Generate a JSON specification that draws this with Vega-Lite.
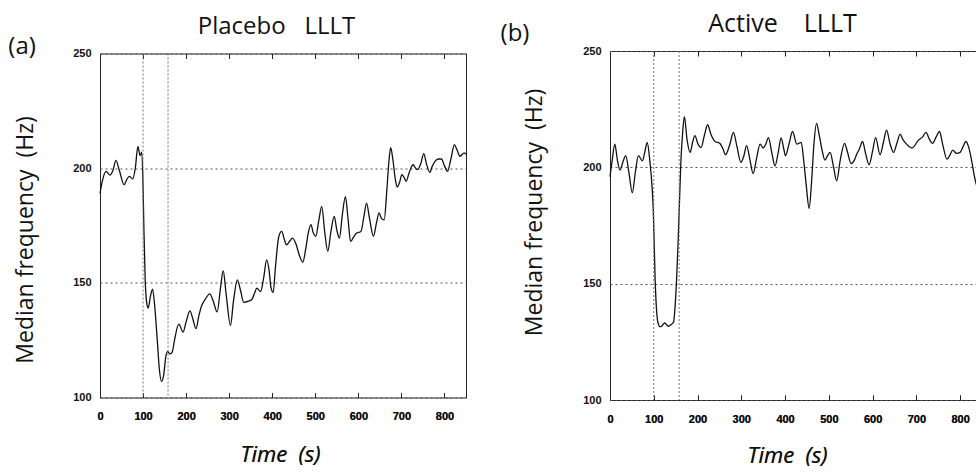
{
  "$schema": "https://vega.github.io/schema/vega-lite/v6.json",
  "background": "white",
  "padding": {"left": 7, "top": 11, "right": 0, "bottom": 0},
  "spacing": 144,
  "bounds": "flush",
  "center": true,
  "config": {
    "view": {"stroke": "#222", "strokeWidth": 1},
    "axis": {
      "labelFont": "Liberation Sans", "labelFontSize": 11, "labelFontWeight": "bold", "labelColor": "#111",
      "titleFont": "Open Sans", "titleFontSize": 23, "titleFontWeight": "normal", "titleColor": "#111",
      "domain": false, "labelFlush": false, "labelOverlap": false
    }
  },
  "datasets": {
    "placebo": [
      {"t":0,"hz":189},{"t":5,"hz":194},{"t":14,"hz":198.6},{"t":23,"hz":197},{"t":30,"hz":199},{"t":37,"hz":203.4},{"t":45,"hz":199},{"t":56,"hz":192.8},{"t":62,"hz":195},{"t":68,"hz":196.4},{"t":76,"hz":195.3},{"t":82,"hz":200},{"t":88,"hz":209.5},{"t":93,"hz":205.5},{"t":97,"hz":207},{"t":100,"hz":192},{"t":102,"hz":173},{"t":105,"hz":151},{"t":108,"hz":142},{"t":112,"hz":139},{"t":117,"hz":144},{"t":122,"hz":147.3},{"t":127,"hz":140},{"t":133,"hz":125},{"t":138,"hz":112},{"t":143,"hz":107},{"t":148,"hz":110},{"t":153,"hz":118},{"t":157,"hz":120},{"t":163,"hz":119},{"t":168,"hz":120},{"t":173,"hz":125},{"t":183,"hz":132},{"t":193,"hz":128.5},{"t":200,"hz":133},{"t":209,"hz":137.8},{"t":216,"hz":134},{"t":223,"hz":130},{"t":230,"hz":136},{"t":236,"hz":140},{"t":245,"hz":143},{"t":255,"hz":145.2},{"t":263,"hz":142},{"t":272,"hz":137.3},{"t":280,"hz":148},{"t":286,"hz":155.3},{"t":293,"hz":145},{"t":303,"hz":131.4},{"t":310,"hz":142},{"t":319,"hz":151.3},{"t":326,"hz":147},{"t":334,"hz":141.5},{"t":345,"hz":142},{"t":352,"hz":142.6},{"t":360,"hz":146},{"t":364,"hz":147.7},{"t":373,"hz":146.2},{"t":380,"hz":152},{"t":387,"hz":160},{"t":393,"hz":155},{"t":397,"hz":148},{"t":402,"hz":145.8},{"t":408,"hz":158},{"t":415,"hz":170},{"t":422,"hz":172.4},{"t":428,"hz":169},{"t":433,"hz":166.6},{"t":440,"hz":168},{"t":447,"hz":169.5},{"t":455,"hz":167},{"t":463,"hz":162},{"t":471,"hz":159},{"t":478,"hz":165},{"t":484,"hz":172},{"t":490,"hz":175.4},{"t":495,"hz":172},{"t":501,"hz":170.3},{"t":508,"hz":177},{"t":515,"hz":183.3},{"t":522,"hz":172},{"t":529,"hz":163.7},{"t":536,"hz":172},{"t":544,"hz":179},{"t":550,"hz":173},{"t":556,"hz":169.5},{"t":563,"hz":180},{"t":570,"hz":187.6},{"t":576,"hz":178},{"t":582,"hz":168},{"t":589,"hz":170},{"t":596,"hz":171.7},{"t":606,"hz":172.4},{"t":613,"hz":179},{"t":619,"hz":184.8},{"t":626,"hz":178},{"t":635,"hz":170.3},{"t":642,"hz":176},{"t":648,"hz":180.5},{"t":654,"hz":178},{"t":660,"hz":177.5},{"t":666,"hz":190},{"t":671,"hz":203},{"t":675,"hz":209},{"t":680,"hz":204},{"t":686,"hz":195},{"t":690,"hz":191.8},{"t":696,"hz":194},{"t":701,"hz":197.2},{"t":706,"hz":196},{"t":711,"hz":194.3},{"t":718,"hz":198},{"t":727,"hz":201.5},{"t":733,"hz":200},{"t":738,"hz":199.4},{"t":745,"hz":202},{"t":752,"hz":206.3},{"t":758,"hz":202},{"t":766,"hz":198.2},{"t":772,"hz":201},{"t":778,"hz":203},{"t":786,"hz":204},{"t":793,"hz":204},{"t":800,"hz":201},{"t":807,"hz":198.6},{"t":815,"hz":204},{"t":823,"hz":210.3},{"t":829,"hz":208},{"t":836,"hz":205.2},{"t":846,"hz":206.7},{"t":850,"hz":206}
    ],
    "active": [
      {"t":0,"hz":196},{"t":5,"hz":203},{"t":11,"hz":210},{"t":17,"hz":203},{"t":23,"hz":198.8},{"t":29,"hz":202},{"t":36,"hz":205},{"t":43,"hz":198},{"t":51,"hz":189.1},{"t":58,"hz":198},{"t":65,"hz":205},{"t":74,"hz":202.8},{"t":80,"hz":207},{"t":85,"hz":210.7},{"t":91,"hz":202.8},{"t":96,"hz":192},{"t":99,"hz":181},{"t":103,"hz":152.5},{"t":109,"hz":133.8},{"t":114,"hz":131.5},{"t":118,"hz":131.7},{"t":125,"hz":133.1},{"t":133,"hz":131.7},{"t":140,"hz":132.5},{"t":145,"hz":133.4},{"t":150,"hz":143.9},{"t":156,"hz":169.7},{"t":162,"hz":202.8},{"t":166,"hz":215},{"t":170,"hz":221.8},{"t":176,"hz":212},{"t":183,"hz":206.4},{"t":189,"hz":211},{"t":194,"hz":213.6},{"t":201,"hz":210},{"t":208,"hz":208.5},{"t":216,"hz":214},{"t":223,"hz":218.3},{"t":231,"hz":214},{"t":240,"hz":211.1},{"t":251,"hz":210.3},{"t":258,"hz":208},{"t":264,"hz":205.4},{"t":274,"hz":210},{"t":282,"hz":215},{"t":290,"hz":209},{"t":299,"hz":202.1},{"t":306,"hz":205},{"t":312,"hz":209.3},{"t":320,"hz":203},{"t":327,"hz":197.3},{"t":335,"hz":204},{"t":343,"hz":210},{"t":350,"hz":208.3},{"t":356,"hz":210},{"t":362,"hz":212.8},{"t":370,"hz":206},{"t":377,"hz":200.6},{"t":384,"hz":206},{"t":391,"hz":212.6},{"t":397,"hz":208},{"t":401,"hz":205},{"t":409,"hz":210},{"t":417,"hz":215.4},{"t":427,"hz":210},{"t":437,"hz":210.7},{"t":442,"hz":204},{"t":448,"hz":193},{"t":455,"hz":182.4},{"t":461,"hz":195},{"t":466,"hz":210},{"t":472,"hz":218.9},{"t":478,"hz":214},{"t":485,"hz":207},{"t":491,"hz":203.1},{"t":497,"hz":205},{"t":503,"hz":206.4},{"t":510,"hz":201},{"t":518,"hz":194.2},{"t":526,"hz":203},{"t":536,"hz":210.3},{"t":542,"hz":207},{"t":551,"hz":201.6},{"t":558,"hz":203},{"t":564,"hz":205.7},{"t":570,"hz":208},{"t":577,"hz":211.1},{"t":584,"hz":206},{"t":592,"hz":201.1},{"t":600,"hz":207},{"t":607,"hz":212.8},{"t":617,"hz":205.4},{"t":625,"hz":211},{"t":632,"hz":216},{"t":640,"hz":210},{"t":648,"hz":206.4},{"t":655,"hz":210},{"t":663,"hz":214.3},{"t":669,"hz":212},{"t":676,"hz":210.3},{"t":690,"hz":208.3},{"t":705,"hz":211.7},{"t":714,"hz":213},{"t":722,"hz":215},{"t":730,"hz":212},{"t":737,"hz":210.3},{"t":745,"hz":213},{"t":753,"hz":215.4},{"t":760,"hz":210},{"t":770,"hz":203.5},{"t":776,"hz":205},{"t":783,"hz":207.4},{"t":792,"hz":206},{"t":800,"hz":206.4},{"t":807,"hz":209},{"t":813,"hz":211.1},{"t":819,"hz":209},{"t":825,"hz":204.2},{"t":834,"hz":194.9},{"t":842,"hz":190},{"t":850,"hz":188}
    ],
    "events": [{"t":100},{"t":158}],
    "label_a": [{"label":"(a)","t":-181,"hz":252.8}],
    "label_b": [{"label":"(b)","t":-217,"hz":257.3}]
  },
  "hconcat": [
    {
      "width": 366, "height": 344,
      "layer": [
        {
          "data": {"name": "placebo"},
          "mark": {"type": "line", "interpolate": "monotone", "color": "#111", "strokeWidth": 1.3},
          "encoding": {
            "x": {"field": "t", "type": "quantitative", "scale": {"domain": [0, 850], "nice": false, "zero": false},
                  "axis": {"orient": "bottom", "title": "Time\u00a0 (s)", "titleFontStyle": "italic", "titleFontSize": 22, "titlePadding": 23, "titleX": 180, "grid": false, "ticks": true, "tickSize": -5, "tickColor": "#222", "labelPadding": 18, "values": [0, 100, 200, 300, 400, 500, 600, 700, 800]}},
            "y": {"field": "hz", "type": "quantitative", "scale": {"domain": [100, 250], "nice": false, "zero": false},
                  "axis": {"title": "Median frequency\u00a0 (Hz)", "titlePadding": 35, "titleY": 186, "values": [100, 150, 200, 250], "grid": true, "gridDash": [2, 3], "gridColor": "#555", "gridWidth": 1, "ticks": false, "labelPadding": 9, "labelBaseline": "middle"}}
          }
        },
        {
          "data": {"name": "label_a"},
          "mark": {"type": "text", "font": "Open Sans", "fontSize": 24, "color": "#111", "baseline": "middle"},
          "encoding": {
            "x": {"field": "t", "type": "quantitative", "scale": {"domain": [0, 850], "nice": false, "zero": false},
                  "axis": {"orient": "bottom", "title": "Time\u00a0 (s)", "titleFontStyle": "italic", "titleFontSize": 22, "titlePadding": 23, "titleX": 180, "grid": false, "ticks": true, "tickSize": -5, "tickColor": "#222", "labelPadding": 18, "values": [0, 100, 200, 300, 400, 500, 600, 700, 800]}},
            "y": {"field": "hz", "type": "quantitative", "scale": {"domain": [100, 250], "nice": false, "zero": false},
                  "axis": {"title": "Median frequency\u00a0 (Hz)", "titlePadding": 35, "titleY": 186, "values": [100, 150, 200, 250], "grid": true, "gridDash": [2, 3], "gridColor": "#555", "gridWidth": 1, "ticks": false, "labelPadding": 9, "labelBaseline": "middle"}},
            "text": {"field": "label"}
          }
        },
        {
          "data": {"name": "events"},
          "mark": {"type": "rule", "color": "#777", "strokeDash": [2, 2], "strokeWidth": 1},
          "encoding": {
            "x": {"field": "t", "type": "quantitative",
                  "axis": {"orient": "top", "labels": false, "title": "Placebo\u00a0\u00a0 LLLT", "titleFontSize": 24, "titleBaseline": "alphabetic", "titlePadding": 20, "titleX": 176, "grid": false, "ticks": true, "tickSize": -5, "tickColor": "#222", "values": [100, 200, 300, 400, 500, 600, 700, 800]}}
          }
        }
      ]
    },
    {
      "width": 372, "height": 349,
      "layer": [
        {
          "data": {"name": "active"},
          "mark": {"type": "line", "interpolate": "monotone", "color": "#111", "strokeWidth": 1.3},
          "encoding": {
            "x": {"field": "t", "type": "quantitative", "scale": {"domain": [0, 850], "nice": false, "zero": false},
                  "axis": {"orient": "bottom", "title": "Time\u00a0 (s)", "titleFontStyle": "italic", "titleFontSize": 22, "titlePadding": 21, "titleX": 177, "grid": false, "ticks": true, "tickSize": -5, "tickColor": "#222", "labelPadding": 18, "values": [0, 100, 200, 300, 400, 500, 600, 700, 800]}},
            "y": {"field": "hz", "type": "quantitative", "scale": {"domain": [100, 250], "nice": false, "zero": false},
                  "axis": {"title": "Median frequency\u00a0 (Hz)", "titlePadding": 36, "titleY": 161, "values": [100, 150, 200, 250], "grid": true, "gridDash": [2, 3], "gridColor": "#555", "gridWidth": 1, "ticks": false, "labelPadding": 9, "labelBaseline": "middle"}}
          }
        },
        {
          "data": {"name": "label_b"},
          "mark": {"type": "text", "font": "Open Sans", "fontSize": 24, "color": "#111", "baseline": "middle"},
          "encoding": {
            "x": {"field": "t", "type": "quantitative", "scale": {"domain": [0, 850], "nice": false, "zero": false},
                  "axis": {"orient": "bottom", "title": "Time\u00a0 (s)", "titleFontStyle": "italic", "titleFontSize": 22, "titlePadding": 21, "titleX": 177, "grid": false, "ticks": true, "tickSize": -5, "tickColor": "#222", "labelPadding": 18, "values": [0, 100, 200, 300, 400, 500, 600, 700, 800]}},
            "y": {"field": "hz", "type": "quantitative", "scale": {"domain": [100, 250], "nice": false, "zero": false},
                  "axis": {"title": "Median frequency\u00a0 (Hz)", "titlePadding": 36, "titleY": 161, "values": [100, 150, 200, 250], "grid": true, "gridDash": [2, 3], "gridColor": "#555", "gridWidth": 1, "ticks": false, "labelPadding": 9, "labelBaseline": "middle"}},
            "text": {"field": "label"}
          }
        },
        {
          "data": {"name": "events"},
          "mark": {"type": "rule", "color": "#777", "strokeDash": [2, 2], "strokeWidth": 1},
          "encoding": {
            "x": {"field": "t", "type": "quantitative",
                  "axis": {"orient": "top", "labels": false, "title": "Active\u00a0\u00a0\u00a0 LLLT", "titleFontSize": 25, "titleBaseline": "alphabetic", "titlePadding": 19, "titleX": 172, "grid": false, "ticks": true, "tickSize": -5, "tickColor": "#222", "values": [100, 200, 300, 400, 500, 600, 700, 800]}}
          }
        }
      ]
    }
  ]
}
